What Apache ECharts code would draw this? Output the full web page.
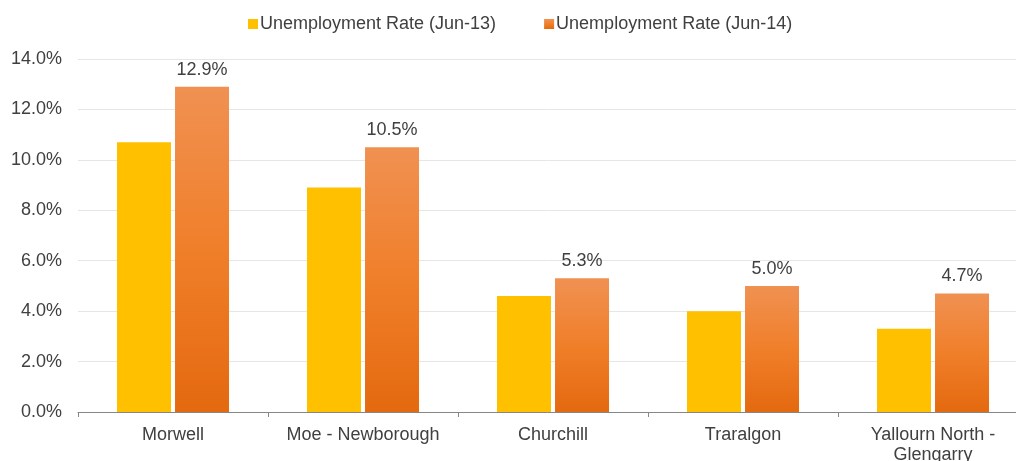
<!DOCTYPE html>
<html><head><meta charset="utf-8">
<script src="https://cdn.jsdelivr.net/npm/echarts@6/dist/echarts.min.js"></script>
<style>html,body{margin:0;padding:0;background:#fff}#c{width:1016px;height:461px}</style>
</head><body><div id="c"></div>
<script>
const categories = ["Morwell", "Moe - Newborough", "Churchill", "Traralgon", "Yallourn North -\nGlengarry"];
const seriesNames = ["Unemployment Rate (Jun-13)", "Unemployment Rate (Jun-14)"];
const jun13 = [10.7, 8.9, 4.6, 4.0, 3.3];
const jun14 = [12.9, 10.5, 5.3, 5.0, 4.7];
const yTicks = [0, 2, 4, 6, 8, 10, 12, 14];

const chart = echarts.init(document.getElementById('c'));
const font = 'Liberation Sans, Arial, sans-serif';
chart.setOption({
  animation: false,
  legend: {
    top: 10, left: 243, itemWidth: 10, itemHeight: 10, itemGap: 48,
    icon: 'rect',
    textStyle: { fontFamily: font, fontSize: 18, color: '#404040', padding: [0,0,0,-3] },
    data: seriesNames
  },
  grid: { left: 78, width: 950, top: 59, height: 353, containLabel: false, outerBoundsMode: 'none' },
  xAxis: {
    type: 'category', data: categories,
    axisLine: { lineStyle: { color: '#868686' } },
    axisTick: { show: true, alignWithLabel: false, length: 5, lineStyle: { color: '#868686' } },
    axisLabel: { fontFamily: font, fontSize: 18, color: '#404040', margin: 13, lineHeight: 20, interval: 0 }
  },
  yAxis: {
    type: 'value', min: yTicks[0], max: yTicks[yTicks.length-1], interval: 2,
    axisLine: { show: false }, axisTick: { show: false },
    splitLine: { lineStyle: { color: '#e6e6e6' } },
    axisLabel: { fontFamily: font, fontSize: 18, color: '#404040', margin: 16,
      formatter: v => v.toFixed(1) + '%' }
  },
  series: [
    { name: seriesNames[0], type: 'bar', data: jun13, barWidth: 54, barGap: '7.5%',
      itemStyle: { color: '#FFC000' } },
    { name: seriesNames[1], type: 'bar', data: jun14, barWidth: 54,
      itemStyle: { color: new echarts.graphic.LinearGradient(0,0,0,1,[
        {offset:0,color:'#F09152'},{offset:0.5,color:'#F07F2A'},{offset:1,color:'#E4690F'}]) },
      label: { show: true, position: 'top', distance: 8, fontFamily: font, fontSize: 18, color: '#404040',
        formatter: p => p.value.toFixed(1) + '%' } }
  ]
});
</script></body></html>
